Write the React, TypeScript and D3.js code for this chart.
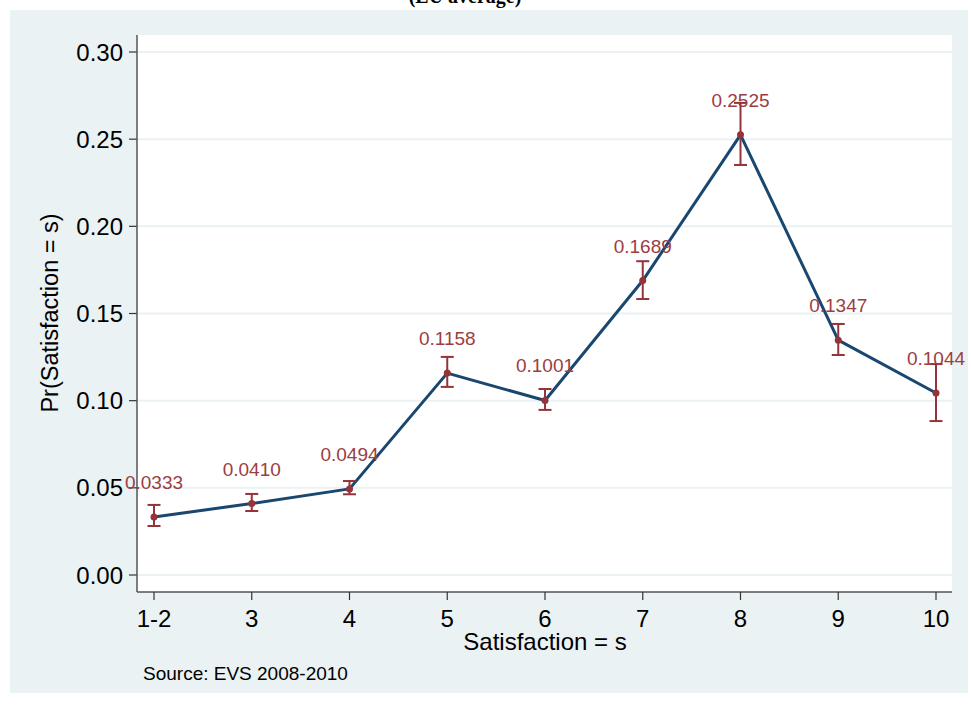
import React from "react";
import * as d3 from "d3";

const categories = ["1-2", "3", "4", "5", "6", "7", "8", "9", "10"];
const probs = [0.0333, 0.041, 0.0494, 0.1158, 0.1001, 0.1689, 0.2525, 0.1347, 0.1044];
const upper = [0.0402, 0.0465, 0.0539, 0.1251, 0.1067, 0.18, 0.2708, 0.144, 0.121];
const lower = [0.0281, 0.0367, 0.0463, 0.1079, 0.0947, 0.1583, 0.2352, 0.1262, 0.0883];
const yTicks = [0, 0.05, 0.1, 0.15, 0.2, 0.25, 0.3];

const W = 971;
const H = 706;
const FONT = "'Liberation Sans', Arial, sans-serif";
const NAVY = "#1a476f";
const RED = "#943339";
const LABEL = "#9c3d42";
const BG = "#eaf2f3";

export default function App() {
  const plot = { left: 137, right: 952, top: 35, bottom: 592 };
  const x = d3.scalePoint<string>().domain(categories).range([154, 936]);
  const y = d3.scaleLinear().domain([0, 0.3]).range([575, 52]);
  const pts = categories.map((c, i) => ({ c, v: probs[i], hi: upper[i], lo: lower[i] }));
  const line = d3
    .line<{ c: string; v: number }>()
    .x((d) => x(d.c) as number)
    .y((d) => y(d.v));

  return (
    <svg width={W} height={H} style={{ position: "absolute", left: 0, top: 0 }} fontFamily={FONT}>
      <rect x={0} y={0} width={W} height={H} fill="#ffffff" />
      <text x={465} y={3} textAnchor="middle" fontFamily="'Liberation Serif', serif" fontWeight="bold" fontSize={20} fill="#000">
        (EU average)
      </text>
      <rect x={10} y={10} width={958} height={683} fill={BG} />
      <rect x={plot.left} y={plot.top} width={plot.right - plot.left} height={plot.bottom - plot.top} fill="#ffffff" />
      {yTicks.map((t) => (
        <g key={t}>
          <line x1={plot.left} x2={plot.right} y1={y(t)} y2={y(t)} stroke={BG} strokeWidth={2} />
          <line x1={plot.left - 8} x2={plot.left} y1={y(t)} y2={y(t)} stroke="#333" strokeWidth={1.2} />
          <text x={123} y={y(t)} dy="0.36em" textAnchor="end" fontSize={24} fill="#000">
            {t.toFixed(2)}
          </text>
        </g>
      ))}
      <line x1={plot.left} x2={plot.left} y1={plot.top} y2={plot.bottom} stroke="#555" strokeWidth={1.5} />
      <line x1={plot.left} x2={plot.right} y1={plot.bottom} y2={plot.bottom} stroke="#555" strokeWidth={1.5} />
      {categories.map((c) => (
        <g key={c}>
          <line x1={x(c)} x2={x(c)} y1={plot.bottom} y2={plot.bottom + 8} stroke="#333" strokeWidth={1.2} />
          <text x={x(c)} y={618.5} dy="0.36em" textAnchor="middle" fontSize={24} fill="#000">
            {c}
          </text>
        </g>
      ))}
      <text x={545} y={641} dy="0.36em" textAnchor="middle" fontSize={24} fill="#000">
        Satisfaction = s
      </text>
      <text transform={`translate(50,${313}) rotate(-90)`} dy="0.36em" textAnchor="middle" fontSize={23.5} fill="#000">
        Pr(Satisfaction = s)
      </text>
      <text x={143} y={680} fontSize={19} fill="#000">
        Source: EVS 2008-2010
      </text>
      <path d={line(pts) || ""} fill="none" stroke={NAVY} strokeWidth={3} strokeLinejoin="round" />
      {pts.map((d) => {
        const cx = x(d.c) as number;
        return (
          <g key={d.c}>
            <line x1={cx} x2={cx} y1={y(d.hi)} y2={y(d.lo)} stroke={RED} strokeWidth={2} />
            <line x1={cx - 6.5} x2={cx + 6.5} y1={y(d.hi)} y2={y(d.hi)} stroke={RED} strokeWidth={2} />
            <line x1={cx - 6.5} x2={cx + 6.5} y1={y(d.lo)} y2={y(d.lo)} stroke={RED} strokeWidth={2} />
            <circle cx={cx} cy={y(d.v)} r={3.5} fill={RED} />
            <text x={cx} y={y(d.v) - 28} textAnchor="middle" fontSize={19} fill={LABEL}>
              {d.v.toFixed(4)}
            </text>
          </g>
        );
      })}
    </svg>
  );
}
